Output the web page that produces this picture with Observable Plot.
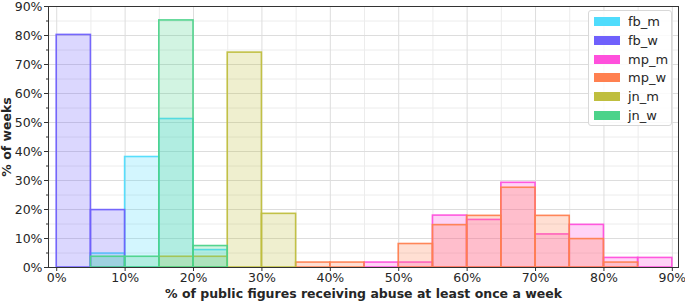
<!DOCTYPE html>
<html>
<head>
<meta charset="utf-8">
<script src="https://cdn.jsdelivr.net/npm/d3@7"></script>
<script src="https://cdn.jsdelivr.net/npm/@observablehq/plot@0.6"></script>
<style>
  body { margin: 0; background: #fff; }
  #wrap { position: relative; width: 685px; height: 301px; font-family: "DejaVu Sans", sans-serif; }
  #legend { position: absolute; left: 588px; top: 10px; width: 84px; height: 116px; background: rgba(255,255,255,0.85);
            border: 1px solid #d8d8d8; border-radius: 3px; box-sizing: border-box; }
  .row { position: absolute; left: 0; height: 19px; width: 100%; }
  .sw { position: absolute; left: 5px; top: 5px; width: 26px; height: 9px; }
  .lab { position: absolute; left: 39px; top: 0; font-size: 13px; line-height: 19px; color: #262626; }
</style>
</head>
<body>
<div id="wrap"></div>
<script>
// bin starts (bin width 5 percentage points)
const binStarts = [0,5,10,15,20,25,30,35,40,45,50,55,60,65,70,75,80,85];
const binWidth = 5;
const seriesNames = ["fb_m","fb_w","mp_m","mp_w","jn_m","jn_w"];
const seriesColors = ["#4fdcfc","#6f60fc","#ff50dc","#ff8050","#bfbe3e","#4cd38a"];
// % of weeks per bin
const fb_m = [0,4.8,38.1,51.2,6.0,0,0,0,0,0,0,0,0,0,0,0,0,0];
const fb_w = [80.2,19.8,0,0,0,0,0,0,0,0,0,0,0,0,0,0,0,0];
const mp_m = [0,0,0,0,0,0,0,0,0,1.7,1.7,17.9,16.4,29.2,11.4,14.7,3.3,3.3];
const mp_w = [0,0,0,0,0,0,0,1.7,1.7,0,8.1,14.6,17.8,27.5,17.8,9.8,1.7,0];
const jn_m = [0,0,0,3.7,3.7,74.1,18.5,0,0,0,0,0,0,0,0,0,0,0];
const jn_w = [0,3.7,3.7,85.2,7.4,0,0,0,0,0,0,0,0,0,0,0,0,0];
const xTicks = [0,10,20,30,40,50,60,70,80,90];
const yTicks = [0,10,20,30,40,50,60,70,80,90];
const minorTicks = [5,15,25,35,45,55,65,75,85];

const seriesValues = [fb_m, fb_w, mp_m, mp_w, jn_m, jn_w];
const rows = [];
seriesNames.forEach((name, i) => {
  seriesValues[i].forEach((v, j) => {
    if (v > 0) rows.push({series: name, x1: binStarts[j], x2: binStarts[j] + binWidth, y: v, order: i});
  });
});
const colorOf = Object.fromEntries(seriesNames.map((n, i) => [n, seriesColors[i]]));

const plot = Plot.plot({
  width: 685,
  height: 301,
  marginLeft: 48,
  marginRight: 7,
  marginTop: 6,
  marginBottom: 34,
  style: {fontFamily: "DejaVu Sans", fontSize: "12.5px", color: "#262626", background: "#fff"},
  x: {domain: [-1.2, 90.9]},
  y: {domain: [0, 90]},
  marks: [
    Plot.gridX(minorTicks, {stroke: "#ececec", strokeOpacity: 1}),
    Plot.gridY(minorTicks, {stroke: "#ececec", strokeOpacity: 1}),
    Plot.gridX(xTicks, {stroke: "#dddddd", strokeOpacity: 1}),
    Plot.gridY(yTicks, {stroke: "#dddddd", strokeOpacity: 1}),
    ...seriesNames.map(name => Plot.rectY(rows.filter(r => r.series === name), {
      x1: "x1", x2: "x2", y: "y",
      fill: colorOf[name], fillOpacity: 0.25,
      stroke: colorOf[name], strokeOpacity: 0.95, strokeWidth: 1.6
    })),
    Plot.frame({stroke: "#333", strokeWidth: 1}),
    Plot.axisY(yTicks, {tickFormat: d => d + "%", tickSize: 4, tickPadding: 2, stroke: "#333", fontSize: 12.5,
      label: "% of weeks", labelAnchor: "center", labelArrow: "none", labelOffset: 46}),
    Plot.axisY(minorTicks, {tickFormat: null, text: null, tickSize: 2, stroke: "#333", label: null}),
    Plot.axisX(xTicks, {tickFormat: d => d + "%", tickSize: 4, tickPadding: 2, stroke: "#333", fontSize: 12.5,
      label: "% of public figures receiving abuse at least once a week", labelAnchor: "center", labelArrow: "none", labelOffset: 30})
  ]
});
d3.select(plot).selectAll('g[aria-label="y-axis label"] text, g[aria-label="x-axis label"] text')
  .style("font-weight", "bold").style("font-size", "12.5px");

const wrap = document.getElementById("wrap");
wrap.appendChild(plot);
const legend = document.createElement("div");
legend.id = "legend";
seriesNames.forEach((name, i) => {
  const row = document.createElement("div");
  row.className = "row";
  row.style.top = (1 + i * 18.8) + "px";
  const sw = document.createElement("div");
  sw.className = "sw";
  sw.style.background = colorOf[name];
  const lab = document.createElement("div");
  lab.className = "lab";
  lab.textContent = name;
  row.appendChild(sw); row.appendChild(lab);
  legend.appendChild(row);
});
wrap.appendChild(legend);
</script>
</body>
</html>
